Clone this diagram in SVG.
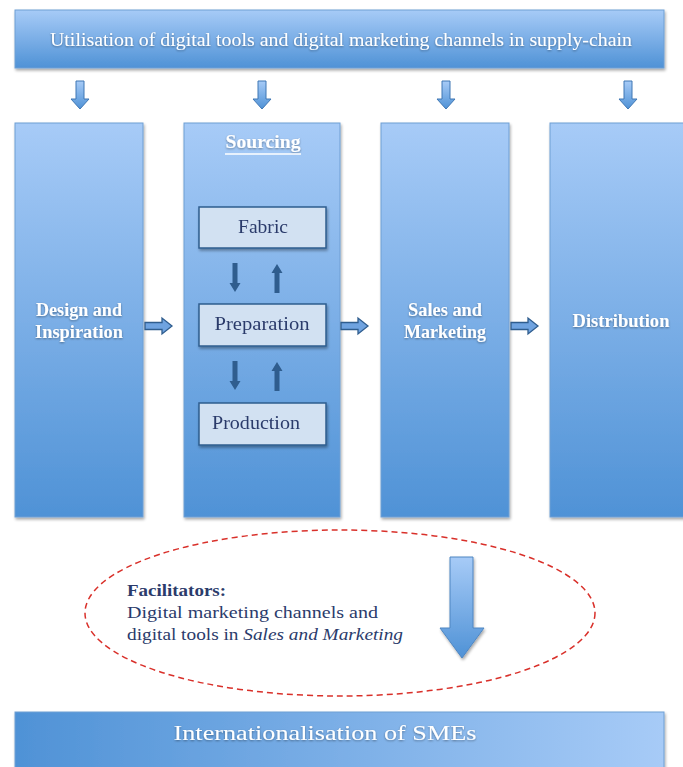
<svg xmlns="http://www.w3.org/2000/svg" width="683" height="767" viewBox="0 0 683 767">
<defs>
<linearGradient id="gv" x1="0" y1="0" x2="0" y2="1"><stop offset="0" stop-color="#a7cbf7"/><stop offset="1" stop-color="#4f92d6"/></linearGradient>
<linearGradient id="gh" x1="0" y1="0" x2="1" y2="0"><stop offset="0" stop-color="#4f92d6"/><stop offset="1" stop-color="#a7cbf7"/></linearGradient>
<filter id="sh" x="-10%" y="-10%" width="130%" height="130%"><feGaussianBlur in="SourceAlpha" stdDeviation="1.5"/><feOffset dx="1" dy="2"/><feComponentTransfer><feFuncA type="linear" slope="0.35"/></feComponentTransfer><feMerge><feMergeNode/><feMergeNode in="SourceGraphic"/></feMerge></filter>
<filter id="ts" x="-5%" y="-20%" width="110%" height="150%"><feGaussianBlur in="SourceAlpha" stdDeviation="0.8"/><feOffset dx="0" dy="1"/><feComponentTransfer><feFuncA type="linear" slope="0.4"/></feComponentTransfer><feMerge><feMergeNode/><feMergeNode in="SourceGraphic"/></feMerge></filter>
<path id="dn" d="M-4,0 H4 V18 H9 L0,28 L-9,18 H-4 Z"/>
<path id="rt" d="M0,-3.5 H17 V-8 L27,0 L17,8 V3.5 H0 Z"/>
<path id="sd" d="M-2.5,0 H2.5 V20 H5.5 L0,29 L-5.5,20 H-2.5 Z"/>
</defs>
<style>
.col{fill:url(#gv);stroke:#6f9fd4;stroke-width:1}
.w{fill:#fff;font-family:"Liberation Serif","DejaVu Serif",serif;font-weight:bold;text-anchor:middle;font-size:18px}
.wn{fill:#fff;font-family:"Liberation Serif","DejaVu Serif",serif;font-weight:normal;text-anchor:middle}
.box{fill:#d2e1f2;stroke:#2f5d8e;stroke-width:1.5}
.bt{fill:#2b3b6b;font-family:"Liberation Serif","DejaVu Serif",serif;font-size:18px;text-anchor:middle}
.ar{fill:url(#gv);stroke:#3f77b4;stroke-width:1}
.sa{fill:#2f5d8e}
.ra{fill:#6fa3e0;stroke:#2f5d8e;stroke-width:1.3}
.ft{fill:#2b3b6b;font-family:"Liberation Serif","DejaVu Serif",serif;font-size:17px}
</style>
<g id="top" filter="url(#sh)">
<rect x="15" y="10" width="649" height="58" class="col"/>
<text x="341" y="46" class="wn" font-size="18" textLength="582" lengthAdjust="spacingAndGlyphs" filter="url(#ts)">Utilisation of digital tools and digital marketing channels in supply-chain</text>
</g>
<g id="design" filter="url(#sh)">
<rect x="15" y="123" width="128" height="394" class="col"/>
<text x="79" y="316" class="w" textLength="86" lengthAdjust="spacingAndGlyphs" filter="url(#ts)">Design and</text>
<text x="79" y="338" class="w" textLength="88" lengthAdjust="spacingAndGlyphs" filter="url(#ts)">Inspiration</text>
</g>
<g id="sourcing">
<rect x="184" y="123" width="156" height="394" class="col" filter="url(#sh)"/>
<text x="263" y="148" class="w" textLength="75" lengthAdjust="spacingAndGlyphs" filter="url(#ts)">Sourcing</text>
<line x1="225" y1="154" x2="301" y2="154" stroke="#fff" stroke-width="1.3"/>
</g>
<g id="fabric" filter="url(#sh)">
<rect x="199" y="207" width="127" height="41" class="box"/>
<text x="263" y="233" class="bt" textLength="50" lengthAdjust="spacingAndGlyphs">Fabric</text>
</g>
<g id="preparation" filter="url(#sh)">
<rect x="199" y="304" width="127" height="42" class="box"/>
<text x="262" y="330" class="bt" textLength="95" lengthAdjust="spacingAndGlyphs">Preparation</text>
</g>
<g id="production" filter="url(#sh)">
<rect x="199" y="403" width="127" height="42" class="box"/>
<text x="256" y="429" class="bt" textLength="88" lengthAdjust="spacingAndGlyphs">Production</text>
</g>
<g id="sales" filter="url(#sh)">
<rect x="381" y="123" width="128" height="394" class="col"/>
<text x="445" y="316" class="w" textLength="74" lengthAdjust="spacingAndGlyphs" filter="url(#ts)">Sales and</text>
<text x="445" y="338" class="w" textLength="82" lengthAdjust="spacingAndGlyphs" filter="url(#ts)">Marketing</text>
</g>
<g id="distribution" filter="url(#sh)">
<rect x="550" y="123" width="140" height="394" class="col"/>
<text x="621" y="327" class="w" textLength="97" lengthAdjust="spacingAndGlyphs" filter="url(#ts)">Distribution</text>
</g>
<g id="facilitators">
<ellipse cx="340" cy="613" rx="255" ry="83" fill="none" stroke="#d9302a" stroke-width="1.5" stroke-dasharray="6,4"/>
<text x="127" y="596" class="ft" font-weight="bold" textLength="99" lengthAdjust="spacingAndGlyphs">Facilitators:</text>
<text x="127" y="618" class="ft" textLength="251" lengthAdjust="spacingAndGlyphs">Digital marketing channels and</text>
<text x="127" y="640" class="ft" textLength="276" lengthAdjust="spacingAndGlyphs">digital tools in <tspan font-style="italic">Sales and Marketing</tspan></text>
</g>
<g id="smes" filter="url(#sh)">
<rect x="15" y="712" width="649" height="60" fill="url(#gh)" stroke="#6f9fd4"/>
<text x="325" y="740" class="wn" font-size="22" textLength="303" lengthAdjust="spacingAndGlyphs" filter="url(#ts)">Internationalisation of SMEs</text>
</g>
<g id="connectors">
<use href="#dn" x="80" y="81" class="ar"/>
<use href="#dn" x="262" y="81" class="ar"/>
<use href="#dn" x="446" y="81" class="ar"/>
<use href="#dn" x="628" y="81" class="ar"/>
<use href="#rt" x="145" y="326" class="ra"/>
<use href="#rt" x="341" y="326" class="ra"/>
<use href="#rt" x="511" y="326" class="ra"/>
<use href="#sd" x="235" y="263" class="sa"/>
<use href="#sd" transform="translate(277,293) scale(1,-1)" class="sa"/>
<use href="#sd" x="235" y="361" class="sa"/>
<use href="#sd" transform="translate(277,391) scale(1,-1)" class="sa"/>
<path d="M450,557 H473 V628 H484 L462,658 L440,628 H450 Z" fill="url(#gv)" stroke="#4f86c2" stroke-width="1" filter="url(#sh)"/>
</g>
</svg>
